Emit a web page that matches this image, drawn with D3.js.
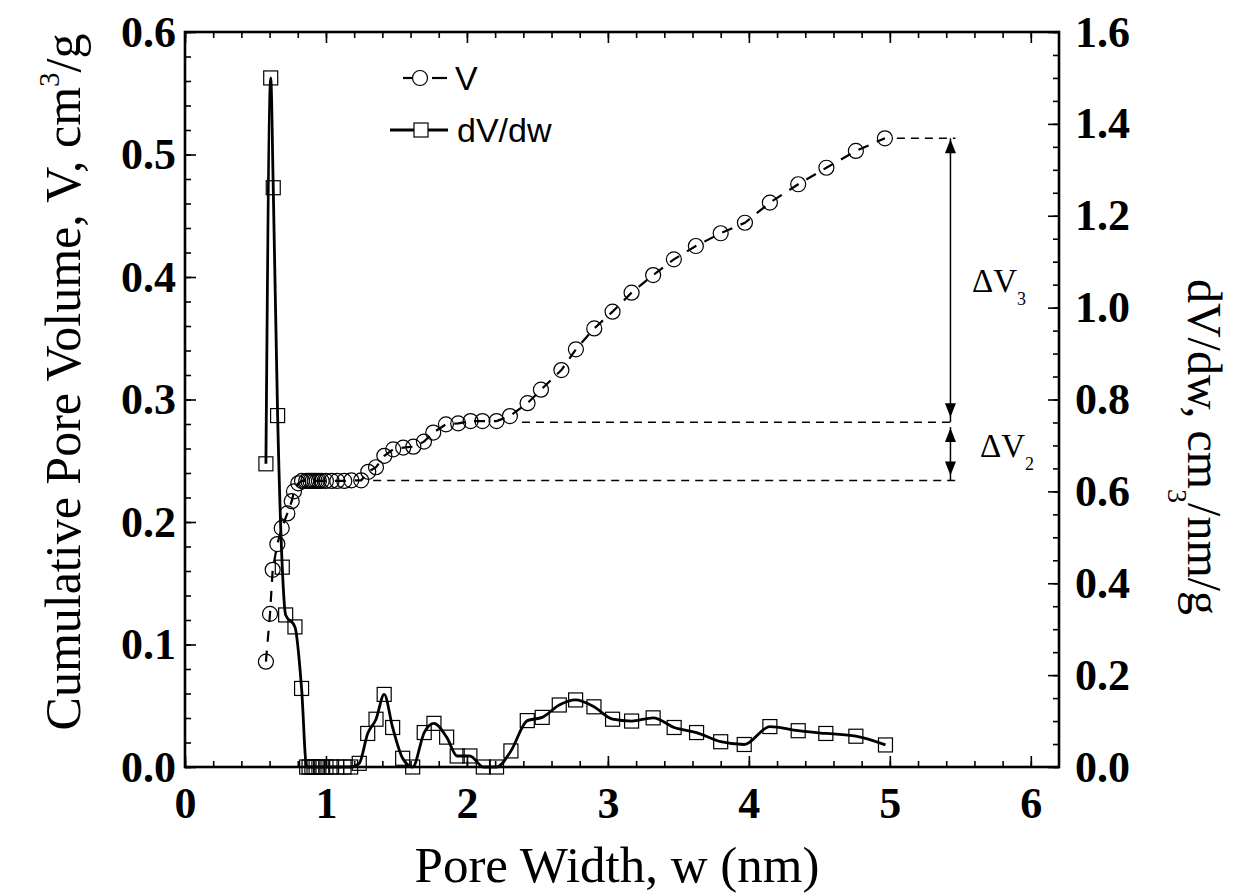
<!DOCTYPE html>
<html>
<head>
<meta charset="utf-8">
<script src="https://cdn.jsdelivr.net/npm/d3@7"></script>
<style>
  body { margin: 0; background: #fff; }
  svg { display: block; }
</style>
</head>
<body>
<div class="svg"></div>
<script>
// cumulative pore volume V (cm3/g) vs pore width w (nm)
var poreWidthV = [0.574, 0.603, 0.622, 0.655, 0.686, 0.726, 0.757, 0.773, 0.804, 0.83,
  0.86, 0.875, 0.89, 0.905, 0.92, 0.935, 0.95, 0.97, 1.00, 1.04,
  1.08, 1.13, 1.18, 1.25, 1.30, 1.355, 1.414, 1.477, 1.548, 1.62,
  1.695, 1.761, 1.851, 1.938, 2.026, 2.11, 2.21, 2.305, 2.43, 2.525,
  2.67, 2.773, 2.903, 3.033, 3.168, 3.321, 3.468, 3.624, 3.80, 3.972,
  4.149, 4.35, 4.55, 4.759, 4.965];
var cumVolume = [0.086, 0.125, 0.161, 0.182, 0.195, 0.207, 0.217, 0.225, 0.2316, 0.2335,
  0.2335, 0.2335, 0.2335, 0.2335, 0.2335, 0.2335, 0.2335, 0.2335, 0.2335, 0.2335,
  0.2335, 0.2335, 0.234, 0.234, 0.241, 0.2447, 0.254, 0.2593, 0.2607, 0.2615,
  0.2656, 0.273, 0.2797, 0.2805, 0.2824, 0.2824, 0.2824, 0.2865, 0.297, 0.308,
  0.324, 0.341, 0.358, 0.3717, 0.3872, 0.4016, 0.4144, 0.4253, 0.4357, 0.4443,
  0.4607, 0.4757, 0.4892, 0.5029, 0.5132];

// pore size distribution dV/dw (cm3/nm/g)
var poreWidthD = [0.574, 0.608, 0.626, 0.657, 0.69, 0.714, 0.78, 0.827, 0.863, 0.88,
  0.90, 0.915, 0.93, 0.95, 0.97, 1.00, 1.04, 1.076, 1.128, 1.175,
  1.236, 1.296, 1.355, 1.413, 1.473, 1.544, 1.615, 1.697, 1.766, 1.856,
  1.931, 2.021, 2.116, 2.21, 2.312, 2.428, 2.534, 2.655, 2.771, 2.901,
  3.033, 3.168, 3.321, 3.47, 3.629, 3.80, 3.967, 4.149, 4.35, 4.546,
  4.759, 4.969];
var dVdw = [0.66, 1.50, 1.261, 0.765, 0.435, 0.331, 0.305, 0.171, 0, 0,
  0, 0, 0, 0, 0, 0, 0, 0, 0, 0,
  0.008, 0.073, 0.104, 0.158, 0.086, 0.019, 0, 0.075, 0.095, 0.065,
  0.024, 0.024, 0, 0, 0.035, 0.101, 0.108, 0.135, 0.146, 0.131,
  0.104, 0.100, 0.107, 0.086, 0.075, 0.055, 0.049, 0.088, 0.079, 0.073,
  0.067, 0.048];

var xTicks = [0, 1, 2, 3, 4, 5, 6];
var leftTicks = [0, 0.1, 0.2, 0.3, 0.4, 0.5, 0.6];
var rightTicks = [0, 0.2, 0.4, 0.6, 0.8, 1.0, 1.2, 1.4, 1.6];

// delta V annotation levels (V units) and where the arrows stand (nm)
var deltaLevels = [0.5132, 0.2815, 0.2338];
var deltaStart = [4.965, 2.305, 1.25];
var arrowW = 5.43;

var W = 1239, H = 896;
var L = 185, R = 1059, T = 32, B = 767;
var serif = "'Liberation Serif', 'Times New Roman', serif";
var sans = "'Liberation Sans', Arial, sans-serif";

var svg = d3.select('div.svg').append('svg')
  .attr('width', W)
  .attr('height', H)
  .style('background', '#fff');

var x = d3.scaleLinear().domain([0, 6.2]).range([L, R]);
var yL = d3.scaleLinear().domain([0, 0.6]).range([B, T]);
var yR = d3.scaleLinear().domain([0, 1.6]).range([B, T]);

function minorList(step, n) {
  return d3.range(0, n).map(function (i) { return +(i * step).toFixed(3); });
}

function styleAxis(g, size) {
  g.select('.domain').remove();
  g.selectAll('line').attr('stroke', '#000').attr('stroke-width', 1.6);
  g.selectAll('text')
    .attr('fill', '#000')
    .style('font-family', serif)
    .style('font-weight', 'bold')
    .style('font-size', size + 'px');
}

// minor ticks
svg.append('g').attr('transform', 'translate(0,' + B + ')')
  .call(d3.axisBottom(x).tickValues(minorList(0.2, 31)).tickSize(-6).tickFormat(''))
  .call(styleAxis, 0);
svg.append('g').attr('transform', 'translate(0,' + T + ')')
  .call(d3.axisTop(x).tickValues(minorList(0.2, 31)).tickSize(-6).tickFormat(''))
  .call(styleAxis, 0);
svg.append('g').attr('transform', 'translate(' + L + ',0)')
  .call(d3.axisLeft(yL).tickValues(minorList(0.02, 31)).tickSize(-6).tickFormat(''))
  .call(styleAxis, 0);
svg.append('g').attr('transform', 'translate(' + R + ',0)')
  .call(d3.axisRight(yR).tickValues(minorList(0.05, 33)).tickSize(-6).tickFormat(''))
  .call(styleAxis, 0);

// major ticks + labels
svg.append('g').attr('transform', 'translate(0,' + B + ')')
  .call(d3.axisBottom(x).tickValues(xTicks).tickSize(-11).tickPadding(20).tickFormat(d3.format('d')))
  .call(styleAxis, 44);
svg.append('g').attr('transform', 'translate(0,' + T + ')')
  .call(d3.axisTop(x).tickValues(xTicks).tickSize(-11).tickFormat(''))
  .call(styleAxis, 0);
svg.append('g').attr('transform', 'translate(' + L + ',0)')
  .call(d3.axisLeft(yL).tickValues(leftTicks).tickSize(-11).tickPadding(9).tickFormat(d3.format('.1f')))
  .call(styleAxis, 44);
svg.append('g').attr('transform', 'translate(' + R + ',0)')
  .call(d3.axisRight(yR).tickValues(rightTicks).tickSize(-11).tickPadding(16).tickFormat(d3.format('.1f')))
  .call(styleAxis, 44);

// frame
svg.append('rect')
  .attr('x', L).attr('y', T)
  .attr('width', R - L).attr('height', B - T)
  .attr('fill', 'none')
  .attr('stroke', '#000')
  .attr('stroke-width', 2.6);

// V series: dashed line + open circles
var vPts = poreWidthV.map(function (w, i) { return [w, cumVolume[i]]; });
var vLine = d3.line()
  .x(function (d) { return x(d[0]); })
  .y(function (d) { return yL(d[1]); });
svg.append('path')
  .datum(vPts)
  .attr('d', vLine)
  .attr('fill', 'none')
  .attr('stroke', '#000')
  .attr('stroke-width', 2.2)
  .attr('stroke-dasharray', '11,9');
svg.selectAll('circle.v')
  .data(vPts)
  .enter()
  .append('circle')
  .attr('class', 'v')
  .attr('cx', function (d) { return x(d[0]); })
  .attr('cy', function (d) { return yL(d[1]); })
  .attr('r', 7.5)
  .attr('fill', 'none')
  .attr('stroke', '#000')
  .attr('stroke-width', 1.2);

// dV/dw series: smooth solid line + open squares
var dPts = poreWidthD.map(function (w, i) { return [w, dVdw[i]]; });
var dLine = d3.line()
  .curve(d3.curveMonotoneX)
  .x(function (d) { return x(d[0]); })
  .y(function (d) { return yR(d[1]); });
svg.append('path')
  .datum(dPts)
  .attr('d', dLine)
  .attr('fill', 'none')
  .attr('stroke', '#000')
  .attr('stroke-width', 2.8);
svg.selectAll('rect.d')
  .data(dPts)
  .enter()
  .append('rect')
  .attr('class', 'd')
  .attr('x', function (d) { return x(d[0]) - 7; })
  .attr('y', function (d) { return yR(d[1]) - 7; })
  .attr('width', 14)
  .attr('height', 14)
  .attr('fill', 'none')
  .attr('stroke', '#000')
  .attr('stroke-width', 1.2);

// delta V guide lines and arrows
var ax = x(arrowW);
deltaLevels.forEach(function (v, i) {
  svg.append('line')
    .attr('x1', x(deltaStart[i]) + 12).attr('x2', ax + 5)
    .attr('y1', yL(v)).attr('y2', yL(v))
    .attr('stroke', '#000')
    .attr('stroke-width', 1.5)
    .attr('stroke-dasharray', '8,6');
});

function arrowHead(tipY, dir) {
  // dir -1 points up, +1 points down
  var len = 14, half = 5.5;
  svg.append('path')
    .attr('d', 'M' + ax + ',' + tipY +
      'L' + (ax - half) + ',' + (tipY - dir * len) +
      'L' + (ax + half) + ',' + (tipY - dir * len) + 'Z')
    .attr('fill', '#000');
}

function doubleArrow(v1, v2) {
  var y1 = yL(v1), y2 = yL(v2);
  svg.append('line')
    .attr('x1', ax).attr('x2', ax)
    .attr('y1', y1).attr('y2', y2)
    .attr('stroke', '#000')
    .attr('stroke-width', 1.5);
  arrowHead(y1 + 1, -1);
  arrowHead(y2 - 5, 1);
}
doubleArrow(deltaLevels[0], deltaLevels[1]);
doubleArrow(deltaLevels[1] - 0.004, deltaLevels[2]);

function deltaLabel(px, py, sub) {
  var t = svg.append('text')
    .attr('x', px).attr('y', py)
    .style('font-family', serif)
    .style('font-size', '33px')
    .attr('fill', '#000');
  t.append('tspan').text('\u0394V');
  t.append('tspan').attr('dy', 13).style('font-size', '18px').text(sub);
}
deltaLabel(972, 292, '3');
deltaLabel(980, 457, '2');

// legend
var leg = svg.append('g');
leg.append('line').attr('x1', 403).attr('x2', 413).attr('y1', 78).attr('y2', 78)
  .attr('stroke', '#000').attr('stroke-width', 2.2);
leg.append('line').attr('x1', 432).attr('x2', 447).attr('y1', 78).attr('y2', 78)
  .attr('stroke', '#000').attr('stroke-width', 2.2);
leg.append('circle').attr('cx', 420).attr('cy', 78).attr('r', 7.5)
  .attr('fill', 'none').attr('stroke', '#000').attr('stroke-width', 1.2);
leg.append('text').attr('x', 455).attr('y', 90)
  .style('font-family', sans).style('font-size', '34px').text('V');
leg.append('line').attr('x1', 390).attr('x2', 448).attr('y1', 130).attr('y2', 130)
  .attr('stroke', '#000').attr('stroke-width', 2.8);
leg.append('rect').attr('x', 414).attr('y', 123).attr('width', 14).attr('height', 14)
  .attr('fill', '#fff').attr('stroke', '#000').attr('stroke-width', 1.2);
leg.append('text').attr('x', 457).attr('y', 142)
  .style('font-family', sans).style('font-size', '34px').text('dV/dw');

// axis titles
svg.append('text')
  .attr('x', 617).attr('y', 882)
  .attr('text-anchor', 'middle')
  .style('font-family', serif)
  .style('font-size', '51px')
  .text('Pore Width, w (nm)');

var lt = svg.append('text')
  .attr('transform', 'translate(80,382) rotate(-90)')
  .attr('text-anchor', 'middle')
  .style('font-family', serif)
  .style('font-size', '50px');
lt.append('tspan').text('Cumulative Pore Volume, V, cm');
lt.append('tspan').attr('dy', -21).style('font-size', '29px').text('3');
lt.append('tspan').attr('dy', 21).text('/g');

// the superscript on this title sits toward the axis, as in the source figure
var rt = svg.append('text')
  .attr('transform', 'translate(1188,447) rotate(90)')
  .attr('text-anchor', 'middle')
  .style('font-family', serif)
  .style('font-size', '48px');
rt.append('tspan').text('dV/dw, cm');
rt.append('tspan').attr('dy', 20).style('font-size', '28px').text('3');
rt.append('tspan').attr('dy', -20).text('/nm/g');
</script>
</body>
</html>
